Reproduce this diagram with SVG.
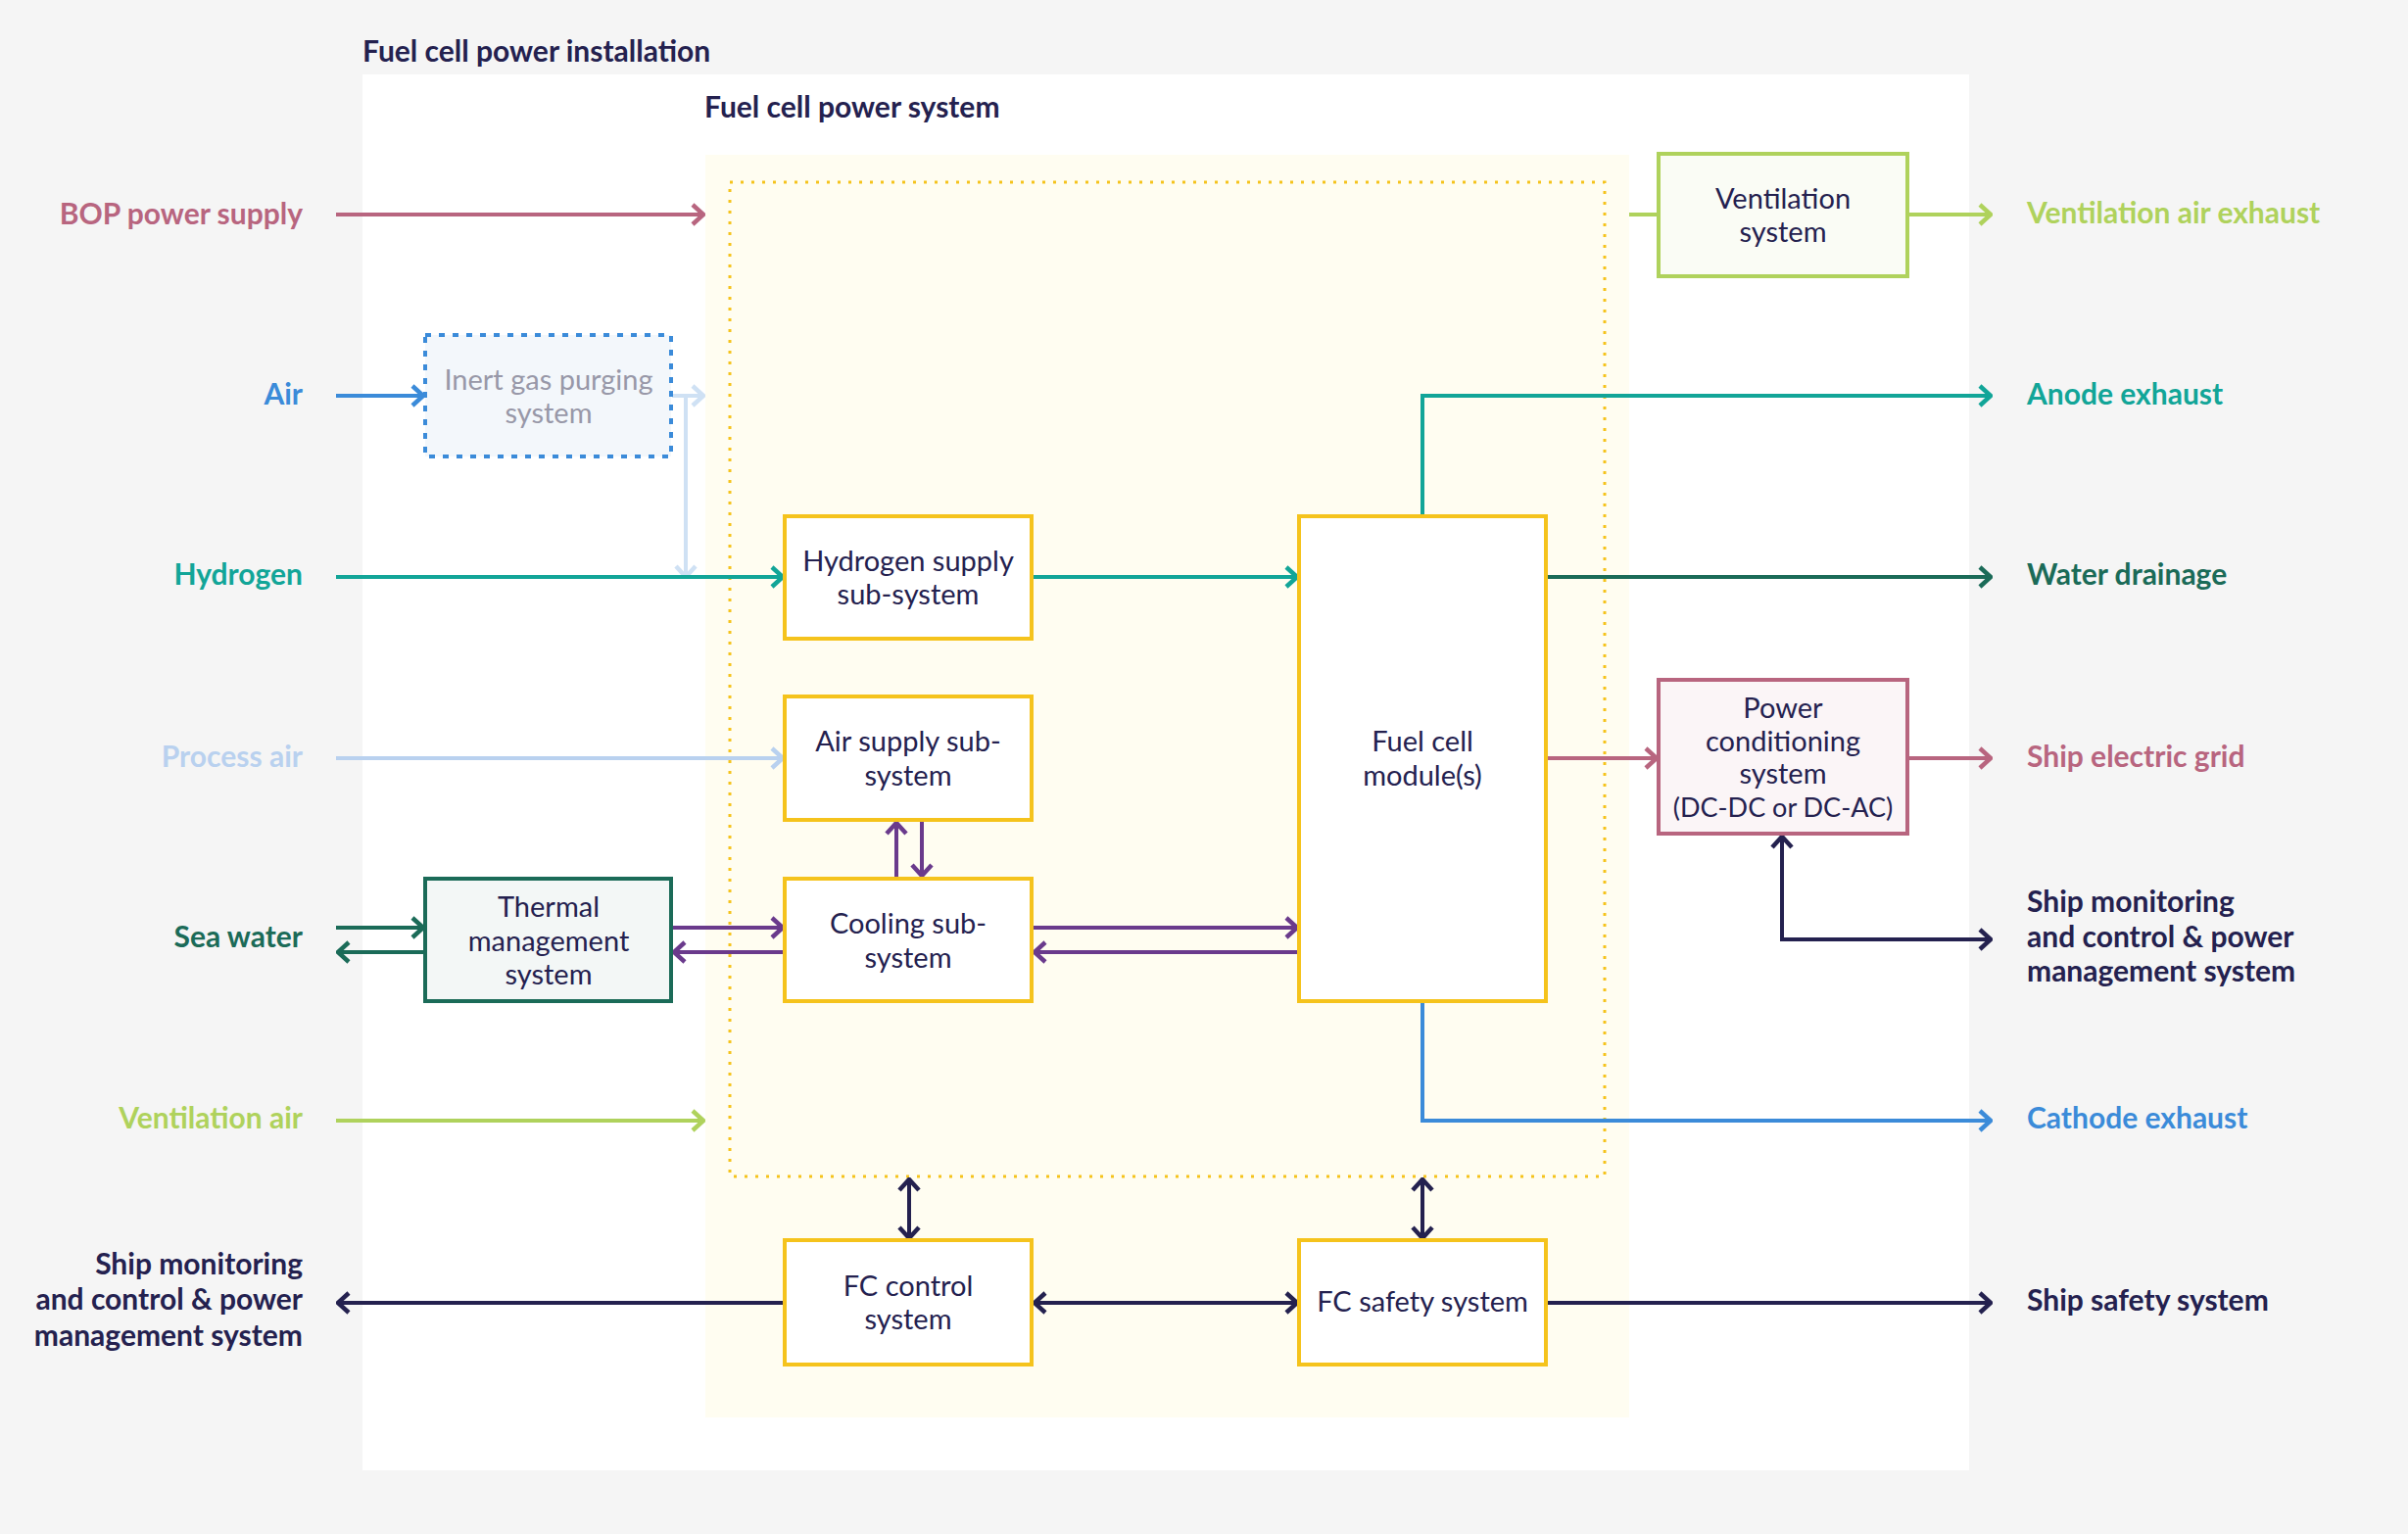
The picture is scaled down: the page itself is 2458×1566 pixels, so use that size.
<svg xmlns="http://www.w3.org/2000/svg" width="2458" height="1566" viewBox="0 0 2458 1566">
<style>
  text { font-family: Lato, "Noto Sans", "Liberation Sans", sans-serif; }
  .title { font-size: 30px; font-weight: 700; fill: #24214f; }
  .lbl { font-size: 30px; font-weight: 700; }
  .box { font-size: 29px; fill: #24214f; text-anchor: middle; }
  .l { text-anchor: end; }
  .c { fill: none; stroke-width: 4; }
  .yb { fill: #ffffff; stroke: #f5c31c; stroke-width: 4; }
</style>
<defs>
  <marker id="m-navy" markerUnits="userSpaceOnUse" viewBox="-14 -12 16 24" refX="0" refY="0" markerWidth="16" markerHeight="24" orient="auto-start-reverse"><path d="M-11,-10 L0,0 L-11,10" fill="none" stroke="#24214f" stroke-width="4.5"/></marker>
  <marker id="m-pink" markerUnits="userSpaceOnUse" viewBox="-14 -12 16 24" refX="0" refY="0" markerWidth="16" markerHeight="24" orient="auto-start-reverse"><path d="M-11,-10 L0,0 L-11,10" fill="none" stroke="#b8657f" stroke-width="4.5"/></marker>
  <marker id="m-blue" markerUnits="userSpaceOnUse" viewBox="-14 -12 16 24" refX="0" refY="0" markerWidth="16" markerHeight="24" orient="auto-start-reverse"><path d="M-11,-10 L0,0 L-11,10" fill="none" stroke="#3b8bd9" stroke-width="4.5"/></marker>
  <marker id="m-lblue" markerUnits="userSpaceOnUse" viewBox="-14 -12 16 24" refX="0" refY="0" markerWidth="16" markerHeight="24" orient="auto-start-reverse"><path d="M-11,-10 L0,0 L-11,10" fill="none" stroke="#cfe1f4" stroke-width="4.5"/></marker>
  <marker id="m-pair" markerUnits="userSpaceOnUse" viewBox="-14 -12 16 24" refX="0" refY="0" markerWidth="16" markerHeight="24" orient="auto-start-reverse"><path d="M-11,-10 L0,0 L-11,10" fill="none" stroke="#b9d1ef" stroke-width="4.5"/></marker>
  <marker id="m-teal" markerUnits="userSpaceOnUse" viewBox="-14 -12 16 24" refX="0" refY="0" markerWidth="16" markerHeight="24" orient="auto-start-reverse"><path d="M-11,-10 L0,0 L-11,10" fill="none" stroke="#12a598" stroke-width="4.5"/></marker>
  <marker id="m-dgreen" markerUnits="userSpaceOnUse" viewBox="-14 -12 16 24" refX="0" refY="0" markerWidth="16" markerHeight="24" orient="auto-start-reverse"><path d="M-11,-10 L0,0 L-11,10" fill="none" stroke="#1b6b58" stroke-width="4.5"/></marker>
  <marker id="m-purple" markerUnits="userSpaceOnUse" viewBox="-14 -12 16 24" refX="0" refY="0" markerWidth="16" markerHeight="24" orient="auto-start-reverse"><path d="M-11,-10 L0,0 L-11,10" fill="none" stroke="#6a3a8c" stroke-width="4.5"/></marker>
  <marker id="m-lgreen" markerUnits="userSpaceOnUse" viewBox="-14 -12 16 24" refX="0" refY="0" markerWidth="16" markerHeight="24" orient="auto-start-reverse"><path d="M-11,-10 L0,0 L-11,10" fill="none" stroke="#afd25c" stroke-width="4.5"/></marker>
</defs>

<rect x="0" y="0" width="2458" height="1566" fill="#f5f5f5"/>

<g id="installation">
  <rect x="370" y="76" width="1640" height="1425" fill="#ffffff"/>
  <text class="title" x="370" y="63">Fuel cell power installation</text>
</g>

<g id="power-system">
  <rect x="720" y="158" width="943" height="1289" fill="#fffdf1"/>
  <text class="title" x="719" y="120">Fuel cell power system</text>
  <rect x="745" y="186" width="893" height="1015" fill="none" stroke="#f5c31c" stroke-width="3" stroke-dasharray="3 8"/>
</g>

<g id="connectors">
  <line class="c" x1="343" y1="219" x2="718" y2="219" stroke="#b8657f" marker-end="url(#m-pink)"/>
  <line class="c" x1="343" y1="404" x2="432" y2="404" stroke="#3b8bd9" marker-end="url(#m-blue)"/>
  <line class="c" x1="686" y1="404" x2="718" y2="404" stroke="#cfe1f4" marker-end="url(#m-lblue)"/>
  <line class="c" x1="700" y1="402" x2="700" y2="589" stroke="#cfe1f4" marker-end="url(#m-lblue)"/>
  <line class="c" x1="343" y1="589" x2="799" y2="589" stroke="#12a598" marker-end="url(#m-teal)"/>
  <line class="c" x1="343" y1="774" x2="799" y2="774" stroke="#b9d1ef" marker-end="url(#m-pair)"/>
  <line class="c" x1="343" y1="947" x2="432" y2="947" stroke="#1b6b58" marker-end="url(#m-dgreen)"/>
  <line class="c" x1="434" y1="972" x2="345" y2="972" stroke="#1b6b58" marker-end="url(#m-dgreen)"/>
  <line class="c" x1="686" y1="947" x2="799" y2="947" stroke="#6a3a8c" marker-end="url(#m-purple)"/>
  <line class="c" x1="801" y1="972" x2="688" y2="972" stroke="#6a3a8c" marker-end="url(#m-purple)"/>
  <line class="c" x1="915" y1="897" x2="915" y2="840" stroke="#6a3a8c" marker-end="url(#m-purple)"/>
  <line class="c" x1="941" y1="837" x2="941" y2="894" stroke="#6a3a8c" marker-end="url(#m-purple)"/>
  <line class="c" x1="343" y1="1144" x2="718" y2="1144" stroke="#afd25c" marker-end="url(#m-lgreen)"/>
  <line class="c" x1="801" y1="1330" x2="345" y2="1330" stroke="#24214f" marker-end="url(#m-navy)"/>
  <line class="c" x1="928" y1="1204" x2="928" y2="1264" stroke="#24214f" marker-start="url(#m-navy)" marker-end="url(#m-navy)"/>
  <line class="c" x1="1452" y1="1204" x2="1452" y2="1264" stroke="#24214f" marker-start="url(#m-navy)" marker-end="url(#m-navy)"/>
  <line class="c" x1="1056" y1="1330" x2="1324" y2="1330" stroke="#24214f" marker-start="url(#m-navy)" marker-end="url(#m-navy)"/>
  <line class="c" x1="1578" y1="1330" x2="2032" y2="1330" stroke="#24214f" marker-end="url(#m-navy)"/>
  <line class="c" x1="1053" y1="589" x2="1324" y2="589" stroke="#12a598" marker-end="url(#m-teal)"/>
  <line class="c" x1="1053" y1="947" x2="1324" y2="947" stroke="#6a3a8c" marker-end="url(#m-purple)"/>
  <line class="c" x1="1326" y1="972" x2="1056" y2="972" stroke="#6a3a8c" marker-end="url(#m-purple)"/>
  <path class="c" d="M1452,527 V404 H2032" stroke="#12a598" marker-end="url(#m-teal)"/>
  <line class="c" x1="1578" y1="589" x2="2032" y2="589" stroke="#1b6b58" marker-end="url(#m-dgreen)"/>
  <line class="c" x1="1578" y1="774" x2="1691" y2="774" stroke="#b8657f" marker-end="url(#m-pink)"/>
  <line class="c" x1="1947" y1="774" x2="2032" y2="774" stroke="#b8657f" marker-end="url(#m-pink)"/>
  <path class="c" d="M1819,854 V959 H2032" stroke="#24214f" marker-start="url(#m-navy)" marker-end="url(#m-navy)"/>
  <path class="c" d="M1452,1022 V1144 H2032" stroke="#3b8bd9" marker-end="url(#m-blue)"/>
  <line class="c" x1="1663" y1="219" x2="1693" y2="219" stroke="#afd25c"/>
  <line class="c" x1="1947" y1="219" x2="2032" y2="219" stroke="#afd25c" marker-end="url(#m-lgreen)"/>
</g>

<g id="inert-gas-purging">
  <rect x="434" y="342" width="251" height="124" fill="#f3f7fb" stroke="#3b8bd9" stroke-width="4" stroke-dasharray="6 8"/>
  <text class="box" x="560" y="398" style="fill:#9898a8">Inert gas purging</text>
  <text class="box" x="560" y="432" style="fill:#9898a8">system</text>
</g>

<g id="hydrogen-supply">
  <rect class="yb" x="801" y="527" width="252" height="125"/>
  <text class="box" x="927" y="583">Hydrogen supply</text>
  <text class="box" x="927" y="617">sub-system</text>
</g>

<g id="air-supply">
  <rect class="yb" x="801" y="711" width="252" height="126"/>
  <text class="box" x="927" y="767">Air supply sub-</text>
  <text class="box" x="927" y="802">system</text>
</g>

<g id="cooling">
  <rect class="yb" x="801" y="897" width="252" height="125"/>
  <text class="box" x="927" y="953">Cooling sub-</text>
  <text class="box" x="927" y="988">system</text>
</g>

<g id="thermal-management">
  <rect x="434" y="897" width="251" height="125" fill="#f3f7f6" stroke="#1b6b58" stroke-width="4"/>
  <text class="box" x="560" y="936">Thermal</text>
  <text class="box" x="560" y="971">management</text>
  <text class="box" x="560" y="1005">system</text>
</g>

<g id="fc-control">
  <rect class="yb" x="801" y="1266" width="252" height="127"/>
  <text class="box" x="927" y="1323">FC control</text>
  <text class="box" x="927" y="1357">system</text>
</g>

<g id="fuel-cell-module">
  <rect class="yb" x="1326" y="527" width="252" height="495"/>
  <text class="box" x="1452" y="767">Fuel cell</text>
  <text class="box" x="1452" y="802">module(s)</text>
</g>

<g id="fc-safety">
  <rect class="yb" x="1326" y="1266" width="252" height="127"/>
  <text class="box" x="1452" y="1339">FC safety system</text>
</g>

<g id="ventilation-system">
  <rect x="1693" y="157" width="254" height="125" fill="#fafcf5" stroke="#afd25c" stroke-width="4"/>
  <text class="box" x="1820" y="213">Ventilation</text>
  <text class="box" x="1820" y="247">system</text>
</g>

<g id="power-conditioning">
  <rect x="1693" y="694" width="254" height="157" fill="#fbf5f7" stroke="#b8657f" stroke-width="4"/>
  <text class="box" x="1820" y="733">Power</text>
  <text class="box" x="1820" y="767">conditioning</text>
  <text class="box" x="1820" y="800">system</text>
  <text class="box" x="1820" y="834" style="font-size:27px">(DC-DC or DC-AC)</text>
</g>

<g id="labels-left">
  <text class="lbl l" x="309" y="229" fill="#b8657f">BOP power supply</text>
  <text class="lbl l" x="309" y="413" fill="#3b8bd9">Air</text>
  <text class="lbl l" x="309" y="597" fill="#12a598">Hydrogen</text>
  <text class="lbl l" x="309" y="783" fill="#b9d1ef">Process air</text>
  <text class="lbl l" x="309" y="967" fill="#1b6b58">Sea water</text>
  <text class="lbl l" x="309" y="1152" fill="#afd25c">Ventilation air</text>
  <text class="lbl l" x="309" y="1301" fill="#24214f">Ship monitoring</text>
  <text class="lbl l" x="309" y="1337" fill="#24214f">and control &amp; power</text>
  <text class="lbl l" x="309" y="1374" fill="#24214f">management system</text>
</g>

<g id="labels-right">
  <text class="lbl" x="2069" y="228" fill="#afd25c">Ventilation air exhaust</text>
  <text class="lbl" x="2069" y="413" fill="#12a598">Anode exhaust</text>
  <text class="lbl" x="2069" y="597" fill="#1b6b58">Water drainage</text>
  <text class="lbl" x="2069" y="783" fill="#b8657f">Ship electric grid</text>
  <text class="lbl" x="2069" y="931" fill="#24214f">Ship monitoring</text>
  <text class="lbl" x="2069" y="967" fill="#24214f">and control &amp; power</text>
  <text class="lbl" x="2069" y="1002" fill="#24214f">management system</text>
  <text class="lbl" x="2069" y="1152" fill="#3b8bd9">Cathode exhaust</text>
  <text class="lbl" x="2069" y="1338" fill="#24214f">Ship safety system</text>
</g>
</svg>
